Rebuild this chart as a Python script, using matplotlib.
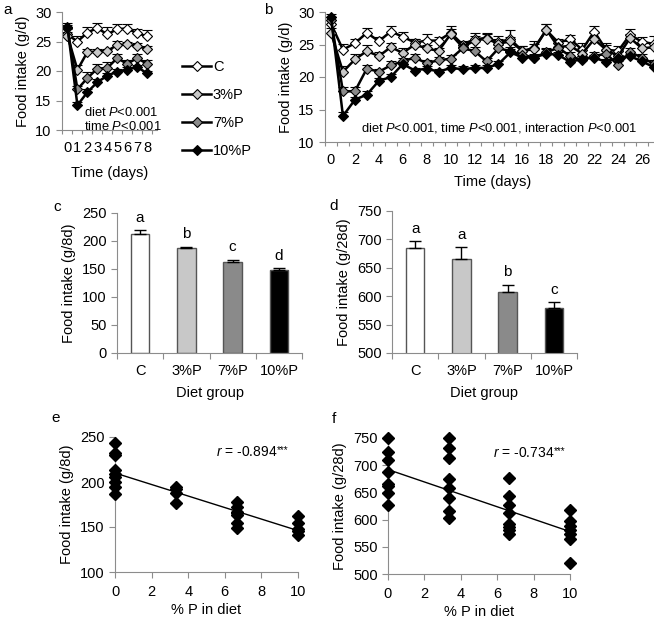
import matplotlib
matplotlib.use('Agg')
import matplotlib.pyplot as plt
from matplotlib.lines import Line2D

plt.rcParams['font.family'] = ['Liberation Sans', 'DejaVu Sans']
plt.rcParams['mathtext.fontset'] = 'custom'
plt.rcParams['mathtext.rm'] = 'Liberation Sans'
plt.rcParams['mathtext.it'] = 'Liberation Sans:italic'

groups = ['C', '3%P', '7%P', '10%P']
group_colors = ['white', '#c8c8c8', '#8a8a8a', 'black']

# panel a: daily intake, first 8 days
days_a = list(range(9))
a_mean = {
    'C':    [26.2, 25.0, 26.5, 27.3, 26.2, 27.1, 27.2, 26.4, 25.9],
    '3%P':  [26.0, 20.2, 23.2, 23.3, 23.4, 24.4, 24.5, 24.3, 23.7],
    '7%P':  [27.3, 16.9, 18.8, 20.4, 20.5, 22.2, 21.2, 22.2, 21.2],
    '10%P': [27.4, 14.2, 16.4, 18.1, 19.2, 19.9, 20.2, 20.7, 19.6],
}
a_err = {
    'C':    [1.0, 1.0, 1.0, 0.8, 1.2, 0.8, 0.8, 0.8, 1.0],
    '3%P':  [0.6, 0.8, 0.6, 0.4, 0.4, 0.7, 0.4, 0.5, 0.5],
    '7%P':  [0.5, 0.6, 1.1, 0.8, 1.0, 0.7, 0.6, 0.7, 0.6],
    '10%P': [0.8, 0.6, 0.6, 0.5, 0.5, 0.5, 0.4, 0.4, 0.4],
}

# panel b: daily intake, 28 days
days_b = list(range(28))
b_mean = {
    'C':    [28.2, 24.2, 25.2, 26.8, 25.5, 27.0, 26.2, 25.3, 25.6, 25.6, 26.8, 25.0, 25.8, 26.0,
             25.4, 25.8, 24.0, 24.5, 27.2, 25.3, 25.8, 24.2, 27.0, 24.2, 24.0, 26.5, 25.4, 25.1],
    '3%P':  [26.8, 20.8, 22.7, 24.0, 23.2, 24.6, 23.7, 25.0, 24.4, 24.0, 26.6, 24.6, 25.6, 25.9,
             25.1, 25.5, 24.0, 24.3, 27.3, 24.6, 24.8, 23.6, 25.8, 24.2, 23.2, 26.0, 24.4, 24.6],
    '7%P':  [28.8, 17.8, 17.8, 21.3, 20.8, 21.8, 22.4, 23.0, 22.1, 22.6, 22.8, 24.4, 24.0, 22.4,
             24.4, 24.0, 23.4, 23.0, 23.8, 24.5, 23.2, 22.6, 23.2, 23.6, 21.8, 23.8, 23.0, 22.0],
    '10%P': [29.3, 14.0, 16.5, 17.3, 19.4, 20.0, 22.0, 21.0, 21.3, 20.8, 21.4, 21.2, 21.4, 21.4,
             22.0, 23.8, 23.0, 23.0, 23.6, 23.4, 22.3, 22.8, 23.0, 22.3, 23.0, 23.2, 22.4, 21.5],
}
b_err = {
    'C':    [0.6, 0.9, 0.7, 0.8, 0.6, 0.8, 0.7, 0.5, 1.0, 0.6, 1.0, 0.6, 1.0, 0.8,
             0.9, 1.5, 0.8, 1.0, 1.0, 0.6, 0.7, 1.0, 0.9, 1.0, 0.8, 0.9, 0.8, 1.2],
    '3%P':  [0.7, 0.9, 0.8, 1.0, 0.6, 0.7, 0.8, 0.8, 0.6, 0.5, 0.8, 0.6, 0.7, 0.7,
             0.7, 0.6, 0.8, 0.8, 0.9, 0.7, 0.7, 0.8, 0.9, 0.7, 0.9, 0.6, 0.8, 0.7],
    '7%P':  [0.5, 0.6, 0.6, 0.6, 0.5, 0.7, 0.6, 0.6, 0.5, 0.5, 0.6, 0.6, 0.6, 0.6,
             0.6, 0.6, 0.6, 0.6, 0.7, 0.7, 0.6, 0.6, 0.7, 0.6, 0.6, 0.6, 0.6, 0.6],
    '10%P': [0.4, 0.6, 0.4, 0.5, 0.5, 0.4, 0.5, 0.4, 0.4, 0.4, 0.4, 0.5, 0.5, 0.5,
             0.5, 0.5, 0.4, 0.4, 0.7, 0.4, 0.4, 0.4, 0.4, 0.4, 0.4, 0.4, 0.4, 0.4],
}

# panels c, d: cumulative intake
c_mean = [212, 187, 163, 148]
c_err = [7, 3, 3, 3]
c_letters = ['a', 'b', 'c', 'd']
d_mean = [684, 665, 608, 579]
d_err = [13, 21, 12, 10]
d_letters = ['a', 'a', 'b', 'c']

# panels e, f: individual intake vs dietary P
e_x = [0] * 9 + [3.33] * 4 + [6.67] * 7 + [10] * 5
e_y = [243, 232, 230, 213, 209, 206, 200, 194, 187,
       194, 192, 188, 177,
       178, 172, 167, 166, 163, 154, 149,
       162, 154, 148, 146, 141]
e_fit = [210, 146]
f_x = [0] * 8 + [3.33] * 8 + [6.67] * 8 + [10] * 7
f_y = [750, 725, 710, 688, 666, 662, 649, 627,
       750, 731, 714, 675, 658, 639, 616, 603,
       677, 643, 627, 612, 592, 586, 580, 574,
       617, 598, 589, 581, 573, 565, 521]
f_fit = [692, 578]

W, H = 654, 619
fig = plt.figure(figsize=(W / 100, H / 100), dpi=100)
FS = 10.5
NOTE = 9.3
SPINE = '#8c8c8c'


def box(l, t, r, b):
    return fig.add_axes([l / W, 1 - b / H, (r - l) / W, (b - t) / H])


def style(ax):
    for s in ['top', 'right']:
        ax.spines[s].set_visible(False)
    for s in ['left', 'bottom']:
        ax.spines[s].set_color(SPINE)
    ax.tick_params(colors=SPINE, labelcolor='black', labelsize=FS, length=4, width=0.8)


def lines(ax, days, means, errs):
    for g, col in zip(groups, group_colors):
        ax.errorbar(days, means[g], yerr=[[0] * len(days), errs[g]], fmt='-D', color='black',
                    mfc=col, mec='black', mew=0.8, ms=5, lw=1.8, elinewidth=1,
                    capsize=3.5, capthick=1, clip_on=False)


def day_axis(ax, days, labels):
    # tick marks between days, labels under days (category axis)
    ax.set_xticks([d - 0.5 for d in days] + [days[-1] + 0.5])
    ax.set_xticklabels([])
    ax.tick_params(axis='x', length=3)
    ax.set_xticks(days, minor=True)
    ax.set_xticklabels(labels, minor=True)
    ax.tick_params(axis='x', which='minor', length=0, pad=8, labelsize=FS)


# a
ax = box(62, 12, 157, 130)
style(ax)
lines(ax, days_a, a_mean, a_err)
ax.set_xlim(-0.55, 9.0)
ax.set_ylim(10, 30)
ax.set_yticks([10, 15, 20, 25, 30])
day_axis(ax, days_a, [str(d) for d in days_a])
ax.set_ylabel('Food intake (g/d)', fontsize=FS)
ax.set_xlabel('Time (days)', fontsize=FS, labelpad=8)
ax.text(1.65, 13.0, 'diet $P$<0.001', fontsize=NOTE, va='center')
ax.text(1.65, 10.6, 'time $P$<0.001', fontsize=NOTE, va='center')

handles = [Line2D([], [], color='black', lw=1.8, marker='D', ms=5, mfc=c, mec='black', mew=0.8)
           for c in group_colors]
fig.legend(handles, groups, loc='upper left', bbox_to_anchor=(175 / W, 1 - 53 / H),
           frameon=False, fontsize=FS, labelspacing=0.95, handlelength=1.95,
           handletextpad=0.15, borderpad=0)

# b
ax = box(325, 12, 660, 142)
style(ax)
lines(ax, days_b, b_mean, b_err)
ax.set_xlim(-0.5, 27.5)
ax.set_ylim(10, 30)
ax.set_yticks([10, 15, 20, 25, 30])
day_axis(ax, days_b, [str(d) if d % 2 == 0 else '' for d in days_b])
ax.set_ylabel('Food intake (g/d)', fontsize=FS)
ax.set_xlabel('Time (days)', fontsize=FS, labelpad=6)
ax.text(14.0, 12.2, 'diet $P$<0.001, time $P$<0.001, interaction $P$<0.001',
        fontsize=NOTE, ha='center', va='center')


def bars(ax, means, errs, letters, ylim, yticks, ylabel):
    style(ax)
    xs = range(len(groups))
    ax.bar(xs, means, width=0.4, color=group_colors, edgecolor='#555555', linewidth=1)
    ax.errorbar(xs, means, yerr=[[0] * len(means), errs], fmt='none', ecolor='black',
                elinewidth=1, capsize=4, capthick=1)
    for x, m, e, t in zip(xs, means, errs, letters):
        ax.annotate(t, (x, m + e), xytext=(0, 4), textcoords='offset points',
                    ha='center', va='bottom', fontsize=FS + 0.5)
    ax.set_ylim(*ylim)
    ax.set_yticks(yticks)
    ax.set_xlim(-0.5, 3.5)
    ax.set_xticks([-0.5, 0.5, 1.5, 2.5, 3.5])
    ax.set_xticklabels([])
    ax.set_xticks(list(xs), minor=True)
    ax.set_xticklabels(groups, minor=True)
    ax.tick_params(axis='x', which='minor', length=0, pad=8, labelsize=FS)
    ax.set_ylabel(ylabel, fontsize=FS)
    ax.set_xlabel('Diet group', fontsize=FS, labelpad=6)


# c
ax = box(117, 213, 302, 353)
bars(ax, c_mean, c_err, c_letters, (0, 250), range(0, 251, 50), 'Food intake (g/8d)')
# d
ax = box(392, 211, 577, 353)
bars(ax, d_mean, d_err, d_letters, (500, 750), range(500, 751, 50), 'Food intake (g/28d)')


def scatter(ax, xs, ys, fit, ylim, yticks, ylabel, rtext, rx, ry):
    style(ax)
    ax.plot(xs, ys, 'D', color='black', ms=6.5, clip_on=False, zorder=3)
    ax.plot([0, 10], fit, color='black', lw=1)
    ax.set_xlim(0, 10)
    ax.set_xticks(range(0, 11, 2))
    ax.set_ylim(*ylim)
    ax.set_yticks(yticks)
    ax.tick_params(axis='x', pad=5)
    ax.set_ylabel(ylabel, fontsize=FS)
    ax.set_xlabel('% P in diet', fontsize=FS, labelpad=3)
    t = ax.text(rx, ry, '$r$ = ' + rtext, fontsize=10, ha='left', va='center')
    ax.annotate('***', xy=(1, 1), xycoords=t, ha='left', va='top', fontsize=7)


# e
ax = box(115, 437, 298, 572)
scatter(ax, e_x, e_y, e_fit, (100, 250), range(100, 251, 50), 'Food intake (g/8d)',
        '-0.894', 5.5, 233)
# f
ax = box(388, 438, 570, 574)
scatter(ax, f_x, f_y, f_fit, (500, 750), range(500, 751, 50), 'Food intake (g/28d)',
        '-0.734', 5.75, 723)

for lab, x, y in [('a', 8, 10), ('b', 268, 10), ('c', 57, 207), ('d', 334, 206),
                  ('e', 56, 418), ('f', 334, 419)]:
    fig.text(x / W, 1 - y / H, lab, fontsize=FS + 0.5, ha='center', va='center')

fig.savefig('out.png', dpi=100)
